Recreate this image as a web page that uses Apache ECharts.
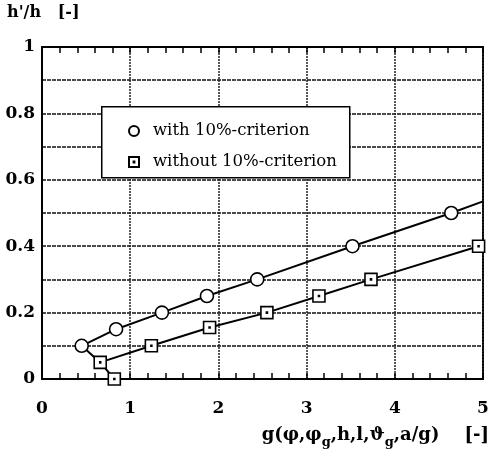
<!DOCTYPE html>
<html>
<head>
<meta charset="utf-8">
<script src="https://cdn.jsdelivr.net/npm/echarts@6/dist/echarts.min.js"></script>
<style>
  html, body { margin: 0; padding: 0; background: #fff; }
  #chart { width: 494px; height: 459px; }
</style>
</head>
<body>
<div id="chart"></div>
<script>
// measured points
const withX = [0.45, 0.84, 1.36, 1.87, 2.44, 3.52, 4.64];
const withY = [0.1, 0.15, 0.2, 0.25, 0.3, 0.4, 0.5];
const withoutX = [0.66, 0.82, 1.24, 1.9, 2.55, 3.14, 3.73, 4.95];
const withoutY = [0.05, 0, 0.1, 0.155, 0.2, 0.25, 0.3, 0.4];
// drawn curves (line vertices)
const withLineX = [0.45, 0.84, 1.36, 1.87, 2.44, 3.52, 4.64, 5];
const withLineY = [0.1, 0.15, 0.2, 0.25, 0.3, 0.4, 0.5, 0.535];
const withoutLineX = [0.66, 1.24, 1.9, 2.55, 3.14, 3.73, 4.95];
const withoutLineY = [0.05, 0.1, 0.155, 0.2, 0.25, 0.3, 0.4];
const branchX = [0.45, 0.66, 0.82];
const branchY = [0.1, 0.05, 0];
const xTicks = [0, 1, 2, 3, 4, 5];
const yLabels = ['0', '0.2', '0.4', '0.6', '0.8', '1'];
const seriesNames = ['with 10%-criterion', 'without 10%-criterion'];

const zip = (xs, ys) => xs.map((x, i) => [x, ys[i]]);
const serif = '"DejaVu Serif", "Liberation Serif", serif';
const squareDot = 'path://M0,0H10V10H0Z M4.6,4.6H5.4V5.4H4.6Z';

const chart = echarts.init(document.getElementById('chart'));

const lineSeries = (data) => ({
  type: 'line',
  data: data,
  symbol: 'none',
  silent: true,
  z: 2,
  lineStyle: { color: '#000', width: 2 }
});

const option = {
  animation: false,
  grid: {
    left: 42, right: 11, top: 47, bottom: 80,
    show: true, borderColor: '#000', borderWidth: 2
  },
  legend: {
    left: 123, top: 116, z: 8,
    orient: 'vertical',
    itemWidth: 10, itemHeight: 10,
    itemGap: 11,
    data: seriesNames,
    textStyle: {
      fontFamily: '"DejaVu Serif", serif', fontSize: 16.5, color: '#000',
      lineHeight: 20, padding: [0, 0, 0, 9]
    }
  },
  xAxis: [{
    type: 'value', min: 0, max: 5, interval: 1,
    axisLine: { show: true, lineStyle: { color: '#000', width: 2 } },
    axisTick: { show: true, inside: true, length: 6, lineStyle: { color: '#000', width: 1.5 } },
    minorTick: { show: true, splitNumber: 5, length: 6, lineStyle: { color: '#000', width: 1.5 } },
    axisLabel: {
      margin: 21, color: '#000', fontFamily: serif, fontWeight: 'bold', fontSize: 17,
      formatter: (v) => xTicks.includes(v) ? String(v) : ''
    },
    splitLine: { show: true, lineStyle: { color: '#222', width: 1.5, type: [2, 1] } }
  }, {
    type: 'value', min: 0, max: 5, interval: 1, position: 'top',
    axisLine: { show: true, lineStyle: { color: '#000', width: 2 } },
    axisTick: { show: true, inside: true, length: 6, lineStyle: { color: '#000', width: 1.5 } },
    minorTick: { show: true, splitNumber: 5, length: 6, lineStyle: { color: '#000', width: 1.5 } },
    axisLabel: { show: false },
    splitLine: { show: false }
  }],
  yAxis: {
    type: 'value', min: 0, max: 1, interval: 0.1,
    axisLine: { show: true, lineStyle: { color: '#000', width: 2 } },
    axisTick: { show: false },
    axisLabel: {
      margin: 7, color: '#000', fontFamily: serif, fontWeight: 'bold', fontSize: 17,
      formatter: (v) => {
        const i = Math.round(v * 10);
        return i % 2 === 0 ? yLabels[i / 2] : '';
      }
    },
    splitLine: { show: true, lineStyle: { color: '#111', width: 1.5, type: [4, 1] } }
  },
  graphic: [
    {
      type: 'text', left: 7, top: 5,
      style: { text: "h'/h   [-]", font: 'bold 16px ' + serif, fill: '#000' }
    },
    {
      type: 'rect', left: 101, top: 106, z: 3,
      shape: { width: 248, height: 71 },
      style: { fill: '#fff', stroke: '#000', lineWidth: 1.5 }
    },
    {
      type: 'text', right: 5, top: 426,
      style: {
        text: '{a|g(φ,φ}{s|g}{a|,h,l,ϑ}{s|g}{a|,a/g)    [-]}',
        rich: {
          a: { fontFamily: serif, fontWeight: 'bold', fontSize: 18, fill: '#000', verticalAlign: 'top' },
          s: { fontFamily: serif, fontWeight: 'bold', fontSize: 13, fill: '#000', verticalAlign: 'top', padding: [10, 0, 0, 0] }
        }
      }
    }
  ],
  series: [
    lineSeries(zip(withLineX, withLineY)),
    lineSeries(zip(withoutLineX, withoutLineY)),
    lineSeries(zip(branchX, branchY)),
    {
      name: seriesNames[0], type: 'scatter',
      data: zip(withX, withY),
      symbol: 'circle', symbolSize: 13, z: 3,
      itemStyle: { color: '#fff', borderColor: '#000', borderWidth: 1.6, opacity: 1 }
    },
    {
      name: seriesNames[1], type: 'scatter',
      data: zip(withoutX, withoutY),
      symbol: squareDot, symbolSize: 12, z: 3,
      itemStyle: { color: '#fff', borderColor: '#000', borderWidth: 1.6, opacity: 1 }
    }
  ]
};

chart.setOption(option);
</script>
</body>
</html>
